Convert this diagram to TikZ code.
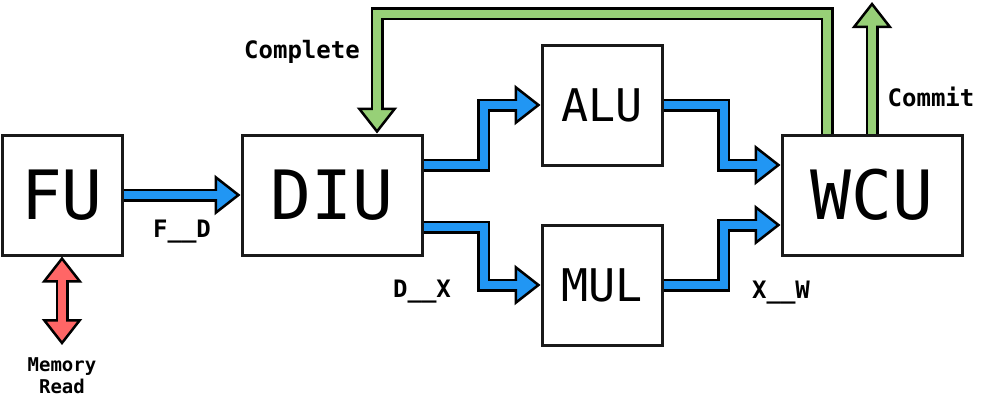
\documentclass[tikz,border=0pt]{standalone}
\usepackage{fontspec}
\setmonofont{DejaVu Sans Mono}
\usetikzlibrary{arrows.meta, calc, positioning}

\definecolor{busblue}{RGB}{33,150,243}
\definecolor{doneg}{RGB}{151,208,119}
\definecolor{memred}{RGB}{255,102,102}

\tikzset{
  unit/.style={draw=black!90, line width=3pt, fill=white, inner sep=0pt,
    minimum height=120pt, font=\ttfamily\fontsize{68}{68}\selectfont},
  subunit/.style={unit, minimum width=120pt, font=\ttfamily\fontsize{45}{45}\selectfont},
  lbl/.style={font=\ttfamily\bfseries\fontsize{24}{24}\selectfont},
  pipe/.style={line width=8pt, draw=#1, shorten >=21pt,
    preaction={draw=black, line width=13pt, shorten >=0pt,
      -{Triangle[length=26pt, width=40pt, fill=#1, line width=2.5pt]}}},
  pipetwo/.style={line width=8pt, draw=#1, shorten >=21pt, shorten <=21pt,
    preaction={draw=black, line width=13pt, shorten >=0pt, shorten <=0pt,
      {Triangle[length=26pt, width=40pt, fill=#1, line width=2.5pt]}-{Triangle[length=26pt, width=40pt, fill=#1, line width=2.5pt]}}},
}

\begin{document}
\begin{tikzpicture}[x=1pt, y=-1pt]
  \useasboundingbox (0,0) rectangle (992,405);
  % pipeline units
  \node[unit, minimum width=120pt] (fu) at (62,195) {FU};
  \node[unit, minimum width=180pt] (diu) at (332,195) {DIU};
  \node[subunit] (alu) at (602,105) {ALU};
  \node[subunit] (mul) at (602,285) {MUL};
  \node[unit, minimum width=180pt] (wcu) at (872,195) {WCU};
  \coordinate (mem) at (62,345);
  \coordinate (out) at (872,2);
  % stage buses
  \draw[pipe=busblue] (fu) -- (diu);
  \draw[pipe=busblue] ([yshift=30pt]diu.east) -- ++(60,0) |- (alu.west);
  \draw[pipe=busblue] ([yshift=-32pt]diu.east) -- ++(60,0) |- (mul.west);
  \draw[pipe=busblue] (alu.east) -- ++(60,0) |- ([yshift=30pt]wcu.west);
  \draw[pipe=busblue] (mul.east) -- ++(60,0) |- ([yshift=-30pt]wcu.west);
  % completion feedback and commit
  \draw[pipe=doneg] ([xshift=-45pt]wcu.north) -- ++(0,-120) -| ([xshift=45pt]diu.north);
  \draw[pipe=doneg] (wcu.north) -- (out);
  % memory port
  \draw[pipetwo=memred] (fu) -- (mem);
  % labels
  \node[lbl] (fd) at (182,232) {F\_\_D};
  \node[lbl] (dx) at (422,292) {D\_\_X};
  \node[lbl] (xw) at (781,293) {X\_\_W};
  \node[lbl] (cpl) at (302,52) {Complete};
  \node[lbl] (cmt) at (931,97) {Commit};
  \node[font=\ttfamily\bfseries\fontsize{19}{22}\selectfont, align=center] (mr) at (62,376) {Memory\\Read};
\end{tikzpicture}
\end{document}
